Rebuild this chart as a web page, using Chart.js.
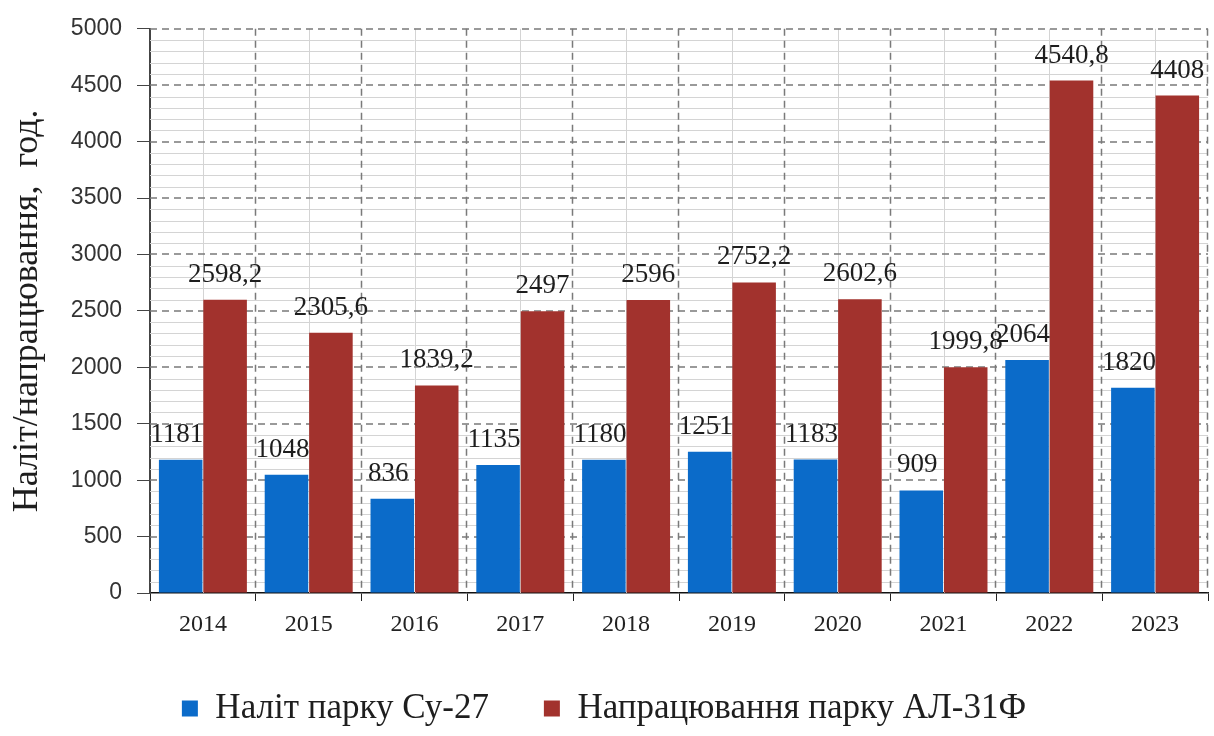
<!DOCTYPE html>
<html>
<head>
<meta charset="utf-8">
<script src="https://cdn.jsdelivr.net/npm/chart.js@4.4.1/dist/chart.umd.min.js"></script>
<style>
  html, body { margin: 0; padding: 0; background: #ffffff; }
  #wrap { width: 1214px; height: 736px; position: relative; }
</style>
</head>
<body>
<div id="wrap"><canvas id="c" width="1214" height="736"></canvas></div>
<script>
const years = ['2014', '2015', '2016', '2017', '2018', '2019', '2020', '2021', '2022', '2023'];
const flightSu27 = [1181, 1048, 836, 1135, 1180, 1251, 1183, 909, 2064, 1820];
const hoursAL31F = [2598.2, 2305.6, 1839.2, 2497, 2596, 2752.2, 2602.6, 1999.8, 4540.8, 4408];
const seriesNames = ['Наліт парку Су-27', 'Напрацювання парку АЛ-31Ф'];
const yTitle = 'Наліт/напрацювання,  год.';
const yMin = 0, yMax = 5000, yMajorStep = 500, yMinorStep = 100;

const serif = '"Liberation Serif", "Times New Roman", serif';
const sans = '"Liberation Sans", Arial, sans-serif';

const gridPlugin = {
  id: 'customGrid',
  beforeDatasetsDraw(chart) {
    const {ctx, chartArea: a, scales: {x, y}} = chart;
    ctx.save();
    ctx.lineWidth = 1;
    ctx.strokeStyle = '#d4d4d4';
    ctx.setLineDash([]);
    for (let v = yMin + yMinorStep; v < yMax; v += yMinorStep) {
      if (v % yMajorStep === 0) continue;
      const py = Math.round(y.getPixelForValue(v)) + 0.5;
      ctx.beginPath(); ctx.moveTo(a.left, py); ctx.lineTo(a.right, py); ctx.stroke();
    }
    for (let i = 0; i < years.length; i++) {
      const px = Math.round(x.getPixelForValue(i)) + 0.5;
      ctx.beginPath(); ctx.moveTo(px, a.top); ctx.lineTo(px, a.bottom); ctx.stroke();
    }
    ctx.strokeStyle = '#7a7a7a';
    ctx.lineWidth = 1.5;
    ctx.setLineDash([7, 5]);
    for (let v = yMin + yMajorStep; v <= yMax; v += yMajorStep) {
      const py = Math.round(y.getPixelForValue(v));
      ctx.beginPath(); ctx.moveTo(a.left, py); ctx.lineTo(a.right, py); ctx.stroke();
    }
    const w = (a.right - a.left) / years.length;
    for (let i = 1; i <= years.length; i++) {
      const px = Math.round(a.left + w * i) - 0.5;
      ctx.beginPath(); ctx.moveTo(px, a.top); ctx.lineTo(px, a.bottom); ctx.stroke();
    }
    ctx.restore();
  }
};

const labelPlugin = {
  id: 'valueLabels',
  afterDatasetsDraw(chart) {
    const {ctx} = chart;
    ctx.save();
    ctx.font = '27px ' + serif;
    ctx.fillStyle = '#1e1e1e';
    ctx.textAlign = 'center';
    ctx.textBaseline = 'alphabetic';
    chart.data.datasets.forEach((ds, di) => {
      const meta = chart.getDatasetMeta(di);
      meta.data.forEach((bar, i) => {
        const txt = String(ds.data[i]).replace('.', ',');
        const dx = di === 0 ? -4 : 0;
        ctx.fillText(txt, bar.x + dx, bar.y - 18);
      });
    });
    ctx.restore();
  }
};

new Chart(document.getElementById('c'), {
  type: 'bar',
  data: {
    labels: years,
    datasets: [
      { label: seriesNames[0], data: flightSu27, backgroundColor: '#0b6bc9', borderWidth: 0 },
      { label: seriesNames[1], data: hoursAL31F, backgroundColor: '#a2322d', borderWidth: 0 }
    ]
  },
  options: {
    responsive: false,
    animation: false,
    devicePixelRatio: 1,
    layout: { padding: { top: 14, right: 6, bottom: 0, left: 0 } },
    datasets: { bar: { categoryPercentage: 0.84, barPercentage: 0.98 } },
    plugins: {
      legend: {
        position: 'bottom',
        labels: {
          font: { family: serif, size: 35 },
          color: '#1e1e1e',
          boxWidth: 16,
          boxHeight: 16,
          padding: 55
        }
      },
      tooltip: { enabled: false }
    },
    scales: {
      x: {
        grid: { display: true, drawOnChartArea: false, drawTicks: true, tickLength: 8, color: '#222', offset: true },
        border: { display: true, color: '#111', width: 1.5 },
        ticks: { font: { family: serif, size: 24 }, color: '#222', padding: 9, maxRotation: 0 },
        afterFit(s) { s.height = 43; }
      },
      y: {
        min: yMin, max: yMax,
        grid: { display: true, drawOnChartArea: false, drawTicks: true, tickLength: 13, color: '#444' },
        border: { display: true, color: '#444', width: 2 },
        ticks: { stepSize: yMajorStep, font: { family: sans, size: 23 }, color: '#333', padding: 15,
                 callback: (v) => String(v) },
        title: { display: true, text: yTitle, font: { family: serif, size: 36 }, color: '#1e1e1e', padding: { top: 6, bottom: 0 } },
        afterFit(s) { s.width = 150; }
      }
    }
  },
  plugins: [gridPlugin, labelPlugin]
});
</script>
</body>
</html>
